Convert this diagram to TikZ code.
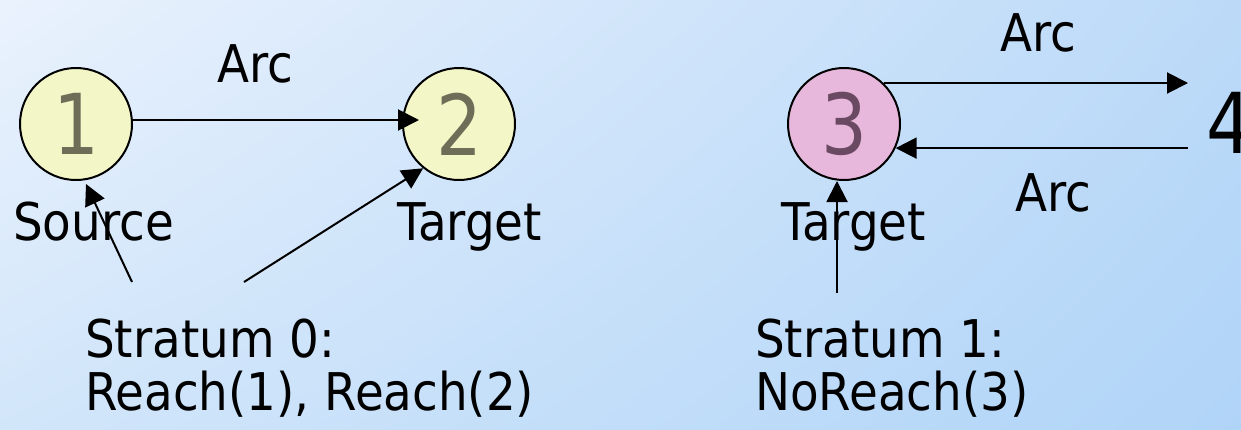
\documentclass[tikz,border=0pt]{standalone}
\usepackage{fontspec}
\setmainfont{DejaVu Sans}[FakeStretch=0.9]
\newfontfamily\digitfont{DejaVu Sans}[FakeStretch=0.86]
\usetikzlibrary{arrows.meta,calc,shadings}

\definecolor{bgUL}{HTML}{EAF2FD}
\definecolor{bgUR}{HTML}{BCDAF8}
\definecolor{bgLL}{HTML}{D2E6FA}
\definecolor{bgLR}{HTML}{B0D4F8}
\definecolor{nodeyellow}{HTML}{F3F6C6}
\definecolor{nodepink}{HTML}{E8B8DC}
\definecolor{digityellow}{HTML}{6E6E58}
\definecolor{digitpink}{HTML}{6A4A62}

\begin{document}
\begin{tikzpicture}[
    x=1pt, y=-1pt,
    vertex/.style={circle, draw, line width=2pt, minimum size=112pt, inner sep=0pt,
      font=\digitfont\fontsize{84}{84}\selectfont},
    color1/.style={fill=nodeyellow, text=digityellow},
    color2/.style={fill=nodepink, text=digitpink},
    caption/.style={inner sep=0pt, anchor=base west, align=left,
      font=\fontsize{52}{53}\selectfont},
    link/.style={line width=2pt, -{Triangle[length=21pt,width=21pt]}}
  ]
  \shade[upper left=bgUL, upper right=bgUR, lower left=bgLL, lower right=bgLR]
    (0,0) rectangle (1241,429);
  \useasboundingbox (0,0) rectangle (1241,429);

  % stratum 0
  \node[vertex, color1] (1) at (76,124) {1};
  \node[vertex, color1] (2) at (459,124) {2};
  \node[caption] (arc12) at (217,82) {Arc};
  \node[caption] (source) at (13,240) {Source};
  \node[caption] (target2) at (397,240) {Target};
  \node[caption] (stratum0) at (85,410) {Stratum 0:\\Reach(1), Reach(2)};
  \coordinate (s0a) at (132,282);
  \coordinate (s0b) at (244,282);

  \draw[link] ([yshift=4pt]1.east) -- ([xshift=17pt,yshift=4pt]2.west);
  \draw[link] (s0a) -- (86,184);
  \draw[link] (s0b) -- (2.-129);

  % stratum 1
  \node[vertex, color2] (3) at (844,124) {3};
  \node[inner sep=0pt, anchor=west, font=\digitfont\fontsize{84}{84}\selectfont]
    (4) at (1206,123) {4};
  \node[caption] (arc34) at (1000,51) {Arc};
  \node[caption] (arc43) at (1015,211) {Arc};
  \node[caption] (target3) at (781,240) {Target};
  \node[caption] (stratum1) at (755,410) {Stratum 1:\\NoReach(3)};
  \coordinate (s1) at (837,293);

  \draw[link] (3.46) -- ([xshift=-18pt]4.west |- 3.46);
  \draw[link] ([xshift=-18pt]4.west |- 3.-25) -- (3.-25);
  \draw[link] (s1) -- (3.south -| s1);
\end{tikzpicture}
\end{document}
